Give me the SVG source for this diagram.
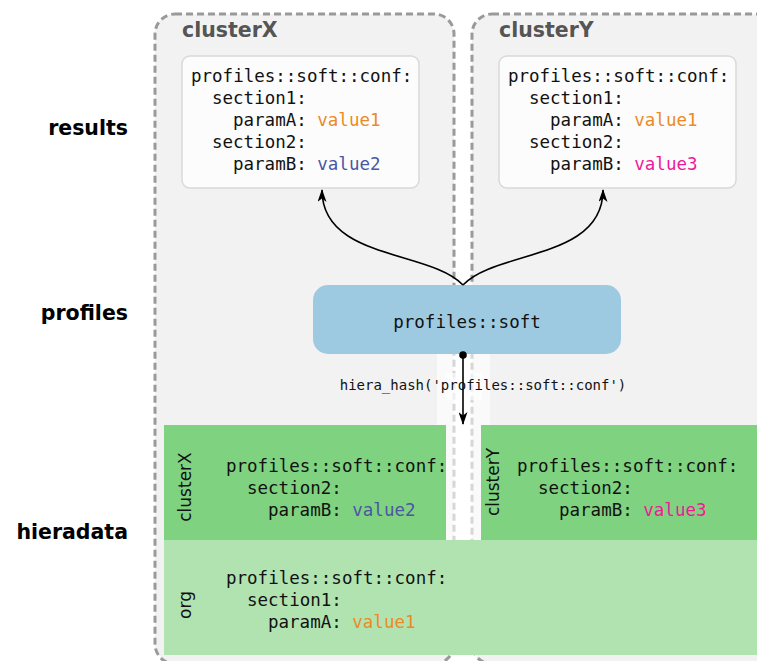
<svg xmlns="http://www.w3.org/2000/svg" width="757" height="661" viewBox="0 0 757 661">
<defs>
<style>
.cluster{fill:#f2f2f2;stroke:#9a9a9a;stroke-width:3;stroke-dasharray:7 4}
.ctitle{font-family:"DejaVu Sans",sans-serif;font-weight:bold;font-size:20.5px;fill:#555}
.lane{font-family:"DejaVu Sans",sans-serif;font-weight:bold;font-size:20.5px;fill:#000;text-anchor:end}
.mono{font-family:"DejaVu Sans Mono",monospace;font-size:17.5px;fill:#111}
.vlab{font-family:"DejaVu Sans",sans-serif;font-size:17px;fill:#111;text-anchor:middle}
.res{fill:#fcfcfc;stroke:#d9d9d9;stroke-width:1.5}
.v1{fill:#ec8a25}
.v2{fill:#4a57a2}
.v3{fill:#f0189a}
.edge{fill:none;stroke:#000;stroke-width:1.6}
</style>
<marker id="arr" viewBox="0 0 13 9" refX="12" refY="4.5" markerWidth="13" markerHeight="9" markerUnits="userSpaceOnUse" orient="auto">
<path d="M0,0 L13,4.5 L0,9 L3.5,4.5 z" fill="#000"/>
</marker>
</defs>
<rect width="757" height="661" fill="#fff"/>
<g id="clusterX">
<rect class="cluster" x="155" y="14" width="299" height="650" rx="20"/>
<text class="ctitle" x="182" y="37">clusterX</text>
</g>
<g id="clusterY">
<rect class="cluster" x="472" y="14" width="310" height="650" rx="20"/>
<text class="ctitle" x="499" y="37">clusterY</text>
</g>
<g id="lanes">
<text class="lane" x="128" y="135">results</text>
<text class="lane" x="128" y="320">profiles</text>
<text class="lane" x="128" y="539">hieradata</text>
</g>
<g id="resultX">
<rect class="res" x="182" y="56" width="237" height="132" rx="8"/>
<text class="mono" x="191" y="82">profiles::soft::conf:</text>
<text class="mono" x="212" y="104">section1:</text>
<text class="mono" x="233" y="126">paramA: <tspan class="v1">value1</tspan></text>
<text class="mono" x="212" y="148">section2:</text>
<text class="mono" x="233" y="170">paramB: <tspan class="v2">value2</tspan></text>
</g>
<g id="resultY">
<rect class="res" x="499" y="56" width="237" height="132" rx="8"/>
<text class="mono" x="508" y="82">profiles::soft::conf:</text>
<text class="mono" x="529" y="104">section1:</text>
<text class="mono" x="550" y="126">paramA: <tspan class="v1">value1</tspan></text>
<text class="mono" x="529" y="148">section2:</text>
<text class="mono" x="550" y="170">paramB: <tspan class="v3">value3</tspan></text>
</g>
<rect x="437" y="354" width="53" height="71" fill="#fff" opacity="0.6"/>
<rect x="446" y="425" width="35" height="115" fill="#fff" opacity="0.6"/>
<g id="hieraX">
<rect x="164" y="425" width="282" height="115" fill="#7fd27f"/>
<text class="vlab" transform="translate(191,487) rotate(-90)">clusterX</text>
<text class="mono" x="226" y="472">profiles::soft::conf:</text>
<text class="mono" x="247" y="494">section2:</text>
<text class="mono" x="268" y="516">paramB: <tspan class="v2">value2</tspan></text>
</g>
<g id="hieraY">
<rect x="481" y="425" width="276" height="115" fill="#7fd27f"/>
<text class="vlab" transform="translate(499,482) rotate(-90)">clusterY</text>
<text class="mono" x="517" y="472">profiles::soft::conf:</text>
<text class="mono" x="538" y="494">section2:</text>
<text class="mono" x="559" y="516">paramB: <tspan class="v3">value3</tspan></text>
</g>
<g id="hieraOrg">
<rect x="164" y="540" width="593" height="115" fill="#b1e3b1"/>
<text class="vlab" transform="translate(191,605) rotate(-90)">org</text>
<text class="mono" x="226" y="584">profiles::soft::conf:</text>
<text class="mono" x="247" y="606">section1:</text>
<text class="mono" x="268" y="628">paramA: <tspan class="v1">value1</tspan></text>
</g>
<g id="profiles">
<rect x="313" y="285" width="308" height="69" rx="15" fill="#9ecae1"/>
<text class="mono" x="467" y="328" text-anchor="middle">profiles::soft</text>
</g>
<g id="connectors">
<path class="edge" d="M463,285 C430,250 322,260 322,190" marker-end="url(#arr)"/>
<path class="edge" d="M463,285 C496,250 603,260 603,190" marker-end="url(#arr)"/>
<rect x="445" y="373" width="37" height="27" fill="#fff" opacity="0.6"/>
<circle cx="463" cy="355" r="3.8" fill="#000"/>
<path class="edge" d="M463,355 L463,424" marker-end="url(#arr)"/>
<text x="483" y="390" text-anchor="middle" style="font-family:'DejaVu Sans Mono',monospace;font-size:14px;fill:#111">hiera_hash('profiles::soft::conf')</text>
</g>
</svg>
